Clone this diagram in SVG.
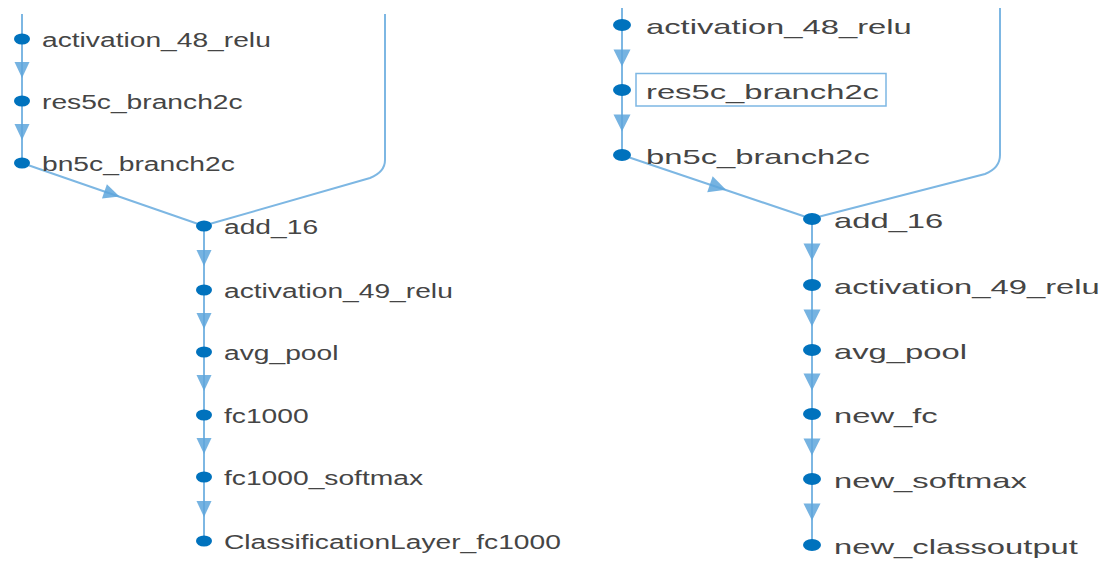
<svg xmlns="http://www.w3.org/2000/svg" xmlns:xlink="http://www.w3.org/1999/xlink" width="1106" height="561" viewBox="0 0 1106 561">
<style>
.edge{fill:none;stroke:#7db7e3;stroke-width:2}
.arr{fill:#5ea6dc;fill-opacity:0.85}
.dot{fill:#0072bd}
.lt{font-family:"Liberation Sans",Arial,sans-serif;font-size:20px;fill:#454545}
.rt{font-family:"Liberation Sans",Arial,sans-serif;font-size:21px;fill:#454545}
.sel{fill:none;stroke:#7db7e3;stroke-width:1.5}
</style>
<defs>
<path id="al" d="M-7.5,-8 L7.5,-8 L0,8 Z"/>
<path id="ar" d="M-8.5,-8.5 L8.5,-8.5 L0,8.5 Z"/>
</defs>
<rect width="1106" height="561" fill="#ffffff"/>
<g id="connectors">
<path class="edge" d="M22,14 L22,163"/>
<path class="edge" d="M22,163 L204,226"/>
<path class="edge" d="M385,14 L385,160 Q385,172 370,178 L206,225"/>
<path class="edge" d="M204,226 L204,541"/>
<use href="#al" class="arr" x="22" y="70"/>
<use href="#al" class="arr" x="22" y="132"/>
<use href="#al" class="arr" transform="translate(112,194) rotate(-70.9)"/>
<use href="#al" class="arr" x="204" y="258"/>
<use href="#al" class="arr" x="204" y="321"/>
<use href="#al" class="arr" x="204" y="383"/>
<use href="#al" class="arr" x="204" y="446"/>
<use href="#al" class="arr" x="204" y="509"/>
<path class="edge" d="M622,8 L622,155"/>
<path class="edge" d="M622,155 L812,219"/>
<path class="edge" d="M1000,8 L1000,155 Q1000,168 985,174 L814,218"/>
<path class="edge" d="M812,219 L812,545"/>
<use href="#ar" class="arr" x="622" y="58"/>
<use href="#ar" class="arr" x="622" y="123"/>
<use href="#ar" class="arr" transform="translate(718,187) rotate(-71.4)"/>
<use href="#ar" class="arr" x="812" y="252"/>
<use href="#ar" class="arr" x="812" y="318"/>
<use href="#ar" class="arr" x="812" y="382"/>
<use href="#ar" class="arr" x="812" y="447"/>
<use href="#ar" class="arr" x="812" y="512"/>
</g>
<g id="L_activation_48_relu"><ellipse class="dot" cx="22" cy="39" rx="8" ry="5.5"/><text class="lt" transform="translate(42,47) scale(1.41,1)">activation_48_relu</text></g>
<g id="L_res5c_branch2c"><ellipse class="dot" cx="22" cy="101" rx="8" ry="5.5"/><text class="lt" transform="translate(42,109) scale(1.41,1)">res5c_branch2c</text></g>
<g id="L_bn5c_branch2c"><ellipse class="dot" cx="22" cy="163" rx="8" ry="5.5"/><text class="lt" transform="translate(42,171) scale(1.41,1)">bn5c_branch2c</text></g>
<g id="L_add_16"><ellipse class="dot" cx="204" cy="226" rx="8" ry="5.5"/><text class="lt" transform="translate(224,234) scale(1.41,1)">add_16</text></g>
<g id="L_activation_49_relu"><ellipse class="dot" cx="204" cy="290" rx="8" ry="5.5"/><text class="lt" transform="translate(224,298) scale(1.41,1)">activation_49_relu</text></g>
<g id="L_avg_pool"><ellipse class="dot" cx="204" cy="352" rx="8" ry="5.5"/><text class="lt" transform="translate(224,360) scale(1.41,1)">avg_pool</text></g>
<g id="L_fc1000"><ellipse class="dot" cx="204" cy="415" rx="8" ry="5.5"/><text class="lt" transform="translate(224,423) scale(1.41,1)">fc1000</text></g>
<g id="L_fc1000_softmax"><ellipse class="dot" cx="204" cy="477" rx="8" ry="5.5"/><text class="lt" transform="translate(224,485) scale(1.41,1)">fc1000_softmax</text></g>
<g id="L_ClassificationLayer_fc1000"><ellipse class="dot" cx="204" cy="541" rx="8" ry="5.5"/><text class="lt" transform="translate(224,549) scale(1.41,1)">ClassificationLayer_fc1000</text></g>
<g id="R_activation_48_relu"><ellipse class="dot" cx="622" cy="25" rx="9" ry="6"/><text class="rt" transform="translate(646,33.5) scale(1.56,1)">activation_48_relu</text></g>
<g id="R_res5c_branch2c"><rect class="sel" x="636" y="73.5" width="250" height="32.5"/><ellipse class="dot" cx="622" cy="90" rx="9" ry="6"/><text class="rt" transform="translate(646,98.5) scale(1.56,1)">res5c_branch2c</text></g>
<g id="R_bn5c_branch2c"><ellipse class="dot" cx="622" cy="155" rx="9" ry="6"/><text class="rt" transform="translate(646,163.5) scale(1.56,1)">bn5c_branch2c</text></g>
<g id="R_add_16"><ellipse class="dot" cx="812" cy="219" rx="9" ry="6"/><text class="rt" transform="translate(834,227.5) scale(1.56,1)">add_16</text></g>
<g id="R_activation_49_relu"><ellipse class="dot" cx="812" cy="285" rx="9" ry="6"/><text class="rt" transform="translate(834,293.5) scale(1.56,1)">activation_49_relu</text></g>
<g id="R_avg_pool"><ellipse class="dot" cx="812" cy="350" rx="9" ry="6"/><text class="rt" transform="translate(834,358.5) scale(1.56,1)">avg_pool</text></g>
<g id="R_new_fc"><ellipse class="dot" cx="812" cy="414" rx="9" ry="6"/><text class="rt" transform="translate(834,422.5) scale(1.56,1)">new_fc</text></g>
<g id="R_new_softmax"><ellipse class="dot" cx="812" cy="479" rx="9" ry="6"/><text class="rt" transform="translate(834,487.5) scale(1.56,1)">new_softmax</text></g>
<g id="R_new_classoutput"><ellipse class="dot" cx="812" cy="545" rx="9" ry="6"/><text class="rt" transform="translate(834,553.5) scale(1.56,1)">new_classoutput</text></g>
</svg>
